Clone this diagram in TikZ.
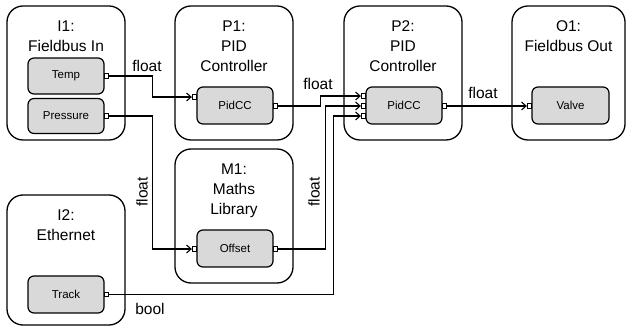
\documentclass[tikz,border=0pt]{standalone}
\usepackage{fontspec}
\setmainfont{Liberation Sans}
\usetikzlibrary{arrows.meta,calc}
\begin{document}
\begin{tikzpicture}[x=1pt,y=-1pt,
  outerbox/.style={draw, line width=1.3pt, rounded corners=16pt, minimum width=118pt, minimum height=134pt, inner sep=0pt},
  innerbox/.style={draw, line width=1.2pt, fill=black!15, rounded corners=6pt, minimum width=76pt, minimum height=37pt, inner sep=0pt, font=\fontsize{11.5}{13}\selectfont},
  title/.style={align=center, inner sep=0pt, font=\fontsize{15.5}{20}\selectfont, anchor=base},
  port/.style={draw, fill=white, line width=0.8pt, minimum size=4.5pt, inner sep=0pt},
  wire/.style={line width=1.1pt},
  arr/.style={wire, -{Straight Barb[length=4.5pt,width=8pt,line width=1.1pt]}},
  lbl/.style={inner sep=0pt, font=\fontsize{15.5}{18}\selectfont}
]
\useasboundingbox (0,0) rectangle (626,328);

% outer boxes
\node[outerbox] (I1) at (66,73) {};
\node[outerbox] (P1) at (234,73) {};
\node[outerbox] (P2) at (403,73) {};
\node[outerbox, minimum width=113pt] (O1) at (568.5,73) {};
\node[outerbox] (M1) at (234,216) {};
\node[outerbox, minimum height=130pt] (I2) at (66,260) {};

% titles (base anchor = baseline of last line)
\node[title] (I1t) at ($(I1.north)+(0,46)$) {I1:\\Fieldbus In};
\node[title] (P1t) at ($(P1.north)+(0,66)$) {P1:\\PID\\Controller};
\node[title] (P2t) at ($(P2.north)+(0,66)$) {P2:\\PID\\Controller};
\node[title] (O1t) at ($(O1.north)+(0,46)$) {O1:\\Fieldbus Out};
\node[title] (M1t) at ($(M1.north)+(0,66)$) {M1:\\Maths\\Library};
\node[title] (I2t) at ($(I2.north)+(0,46)$) {I2:\\Ethernet};

% inner boxes
\node[innerbox, minimum height=36pt] (temp) at (66,76) {Temp};
\node[innerbox, minimum height=35pt] (press) at (66,116) {Pressure};
\node[innerbox] (pid1) at (235,105.5) {PidCC};
\node[innerbox] (pid2) at (404,105.5) {PidCC};
\node[innerbox, minimum width=77pt] (valve) at (570.5,105.5) {Valve};
\node[innerbox] (offset) at (235,248.5) {Offset};
\node[innerbox] (track) at (66,294.5) {Track};

% ports
\node[port] (tempO) at (106.5,76) {};
\node[port] (pressO) at (106.5,116) {};
\node[port] (trackO) at (106.5,294.5) {};
\node[port] (pid1I) at (194.5,97) {};
\node[port] (pid1O) at (275.5,106) {};
\node[port] (offI) at (194.5,249) {};
\node[port] (offO) at (275.5,249) {};
\node[port] (pid2Ia) at (363.5,96) {};
\node[port] (pid2Ib) at (363.5,106) {};
\node[port] (pid2Ic) at (363.5,116) {};
\node[port] (pid2O) at (444.5,106) {};
\node[port] (valveI) at (529.5,106) {};

% wires
\draw[arr] (tempO.east) -- ++(43,0) |- (pid1I.west);
\draw[arr] (pressO.east) -- ++(43,0) |- (offI.west);
\draw[arr] (pid1O.east) -- ++(42,0) |- (pid2Ia.west);
\draw[arr] (offO.east) -- ++(47,0) |- (pid2Ib.west);
\draw[arr] (trackO.east) -- ++(224,0) |- (pid2Ic.west);
\draw[arr] (pid2O.east) -- (valveI.west);

% labels
\node[lbl] (l1) at (147,66) {float};
\node[lbl] (l2) at (318,84) {float};
\node[lbl] (l3) at (483,93) {float};
\node[lbl, rotate=90] (l4) at (142,192) {float};
\node[lbl, rotate=90] (l5) at (314,192) {float};
\node[lbl] (l6) at (150,309) {bool};
\end{tikzpicture}
\end{document}
